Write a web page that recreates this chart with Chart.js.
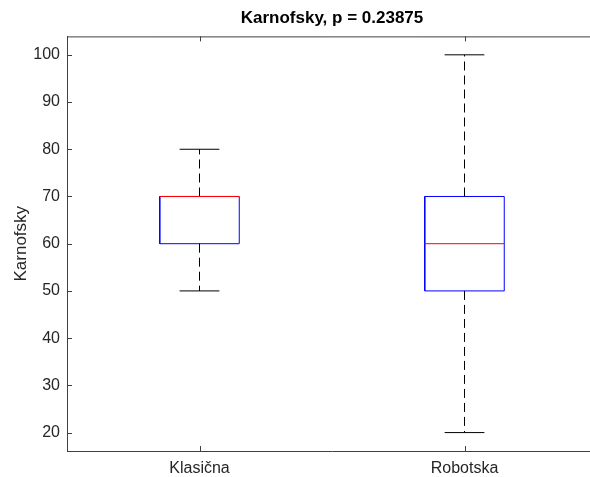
<!DOCTYPE html>
<html>
<head>
<meta charset="utf-8">
<script src="https://cdn.jsdelivr.net/npm/chart.js@4"></script>
<style>
    body { margin: 0; overflow: hidden; background: #fff; }
    #wrap { width: 597px; height: 477px; }
</style>
</head>
<body>
<div id="wrap"><canvas id="myChart"></canvas></div>
<script>
// box plot values
const categories = ["Klasična", "Robotska"];
const lowerWhisker = [50, 20];
const q1 = [60, 50];
const median = [70, 60];
const q3 = [70, 70];
const upperWhisker = [80, 100];
const yTicks = [20, 30, 40, 50, 60, 70, 80, 90, 100];

const boxHalf = 0.15;
const capHalf = 0.075;
const axisColor = '#404040';
const textColor = '#262626';

function buildDatasets() {
    let result = [];
    for (let i = 0; i < categories.length; i++) {
        let x = i + 1;
        // box
        result.push({
            data: [
                {x: x - boxHalf, y: q1[i]}, {x: x + boxHalf, y: q1[i]},
                {x: x + boxHalf, y: q3[i]}, {x: x - boxHalf, y: q3[i]},
                {x: x - boxHalf, y: q1[i]}
            ],
            borderColor: 'rgb(0, 0, 255)',
            borderWidth: 1,
            order: 2
        });
        // median, drawn on top of the box
        result.push({
            data: [{x: x - boxHalf, y: median[i]}, {x: x + boxHalf, y: median[i]}],
            borderColor: 'rgb(255, 0, 0)',
            borderWidth: 1,
            order: 0
        });
        // whiskers (dashed)
        result.push({
            data: [{x: x, y: q3[i]}, {x: x, y: upperWhisker[i]}],
            borderColor: '#000',
            borderWidth: 1,
            borderDash: [9, 5],
            order: 1
        });
        result.push({
            data: [{x: x, y: q1[i]}, {x: x, y: lowerWhisker[i]}],
            borderColor: '#000',
            borderWidth: 1,
            borderDash: [9, 5],
            order: 1
        });
        // caps
        result.push({
            data: [{x: x - capHalf, y: upperWhisker[i]}, {x: x + capHalf, y: upperWhisker[i]}],
            borderColor: '#000',
            borderWidth: 1,
            order: 1
        });
        result.push({
            data: [{x: x - capHalf, y: lowerWhisker[i]}, {x: x + capHalf, y: lowerWhisker[i]}],
            borderColor: '#000',
            borderWidth: 1,
            order: 1
        });
    }
    return result;
}

// axis box top line + inward tick marks like MATLAB
const axisTicks = {
    id: 'axisTicks',
    afterDraw(chart) {
        const ctx = chart.ctx;
        const area = chart.chartArea;
        const xs = chart.scales.x;
        const ys = chart.scales.y;
        ctx.save();
        ctx.strokeStyle = axisColor;
        ctx.lineWidth = 1;
        ctx.beginPath();
        ctx.moveTo(area.left, area.top + 0.5);
        ctx.lineTo(area.right, area.top + 0.5);
        yTicks.forEach(function(v) {
            let py = Math.round(ys.getPixelForValue(v)) + 0.5;
            ctx.moveTo(area.left, py);
            ctx.lineTo(area.left + 5, py);
        });
        categories.forEach(function(c, i) {
            let px = Math.round(xs.getPixelForValue(i + 1)) + 0.5;
            ctx.moveTo(px, area.bottom);
            ctx.lineTo(px, area.bottom - 5);
            ctx.moveTo(px, area.top);
            ctx.lineTo(px, area.top + 5);
        });
        ctx.stroke();
        ctx.restore();
    }
};

const config = {
    type: 'line',
    data: { datasets: buildDatasets() },
    options: {
        responsive: true,
        maintainAspectRatio: false,
        animation: false,
        layout: { padding: 0 },
        elements: { point: { radius: 0 }, line: { tension: 0, fill: false } },
        plugins: {
            legend: { display: false },
            tooltip: { enabled: false },
            title: {
                display: true,
                text: 'Karnofsky, p = 0.23875',
                fullSize: false,
                color: '#000',
                font: { family: 'Liberation Sans, Arial, sans-serif', size: 17, weight: 'bold' },
                padding: { top: 8, bottom: 8 }
            }
        },
        scales: {
            x: {
                type: 'linear',
                min: 0.5,
                max: 2.5,
                afterBuildTicks: function(scale) {
                    scale.ticks = categories.map(function(c, i) { return {value: i + 1}; });
                },
                afterFit: function(scale) { scale.height = 26; },
                ticks: {
                    color: textColor,
                    padding: 8,
                    maxRotation: 0,
                    font: { family: 'Liberation Sans, Arial, sans-serif', size: 16 },
                    callback: function(v) { return categories[v - 1]; }
                },
                grid: { display: false, drawTicks: false },
                border: { display: true, color: axisColor, width: 1 }
            },
            y: {
                type: 'linear',
                min: 16.1,
                max: 103.9,
                afterBuildTicks: function(scale) {
                    scale.ticks = yTicks.map(function(v) { return {value: v}; });
                },
                afterFit: function(scale) { scale.width = 67; },
                ticks: {
                    color: textColor,
                    padding: 7,
                    font: { family: 'Liberation Sans, Arial, sans-serif', size: 16 }
                },
                grid: { display: false, drawTicks: false },
                border: { display: true, color: axisColor, width: 1 },
                title: {
                    display: true,
                    text: 'Karnofsky',
                    color: textColor,
                    font: { family: 'Liberation Sans, Arial, sans-serif', size: 17 },
                    padding: { top: 11, bottom: 0 }
                }
            }
        }
    },
    plugins: [axisTicks]
};

var myChart = new Chart(document.getElementById('myChart'), config);
</script>
</body>
</html>
